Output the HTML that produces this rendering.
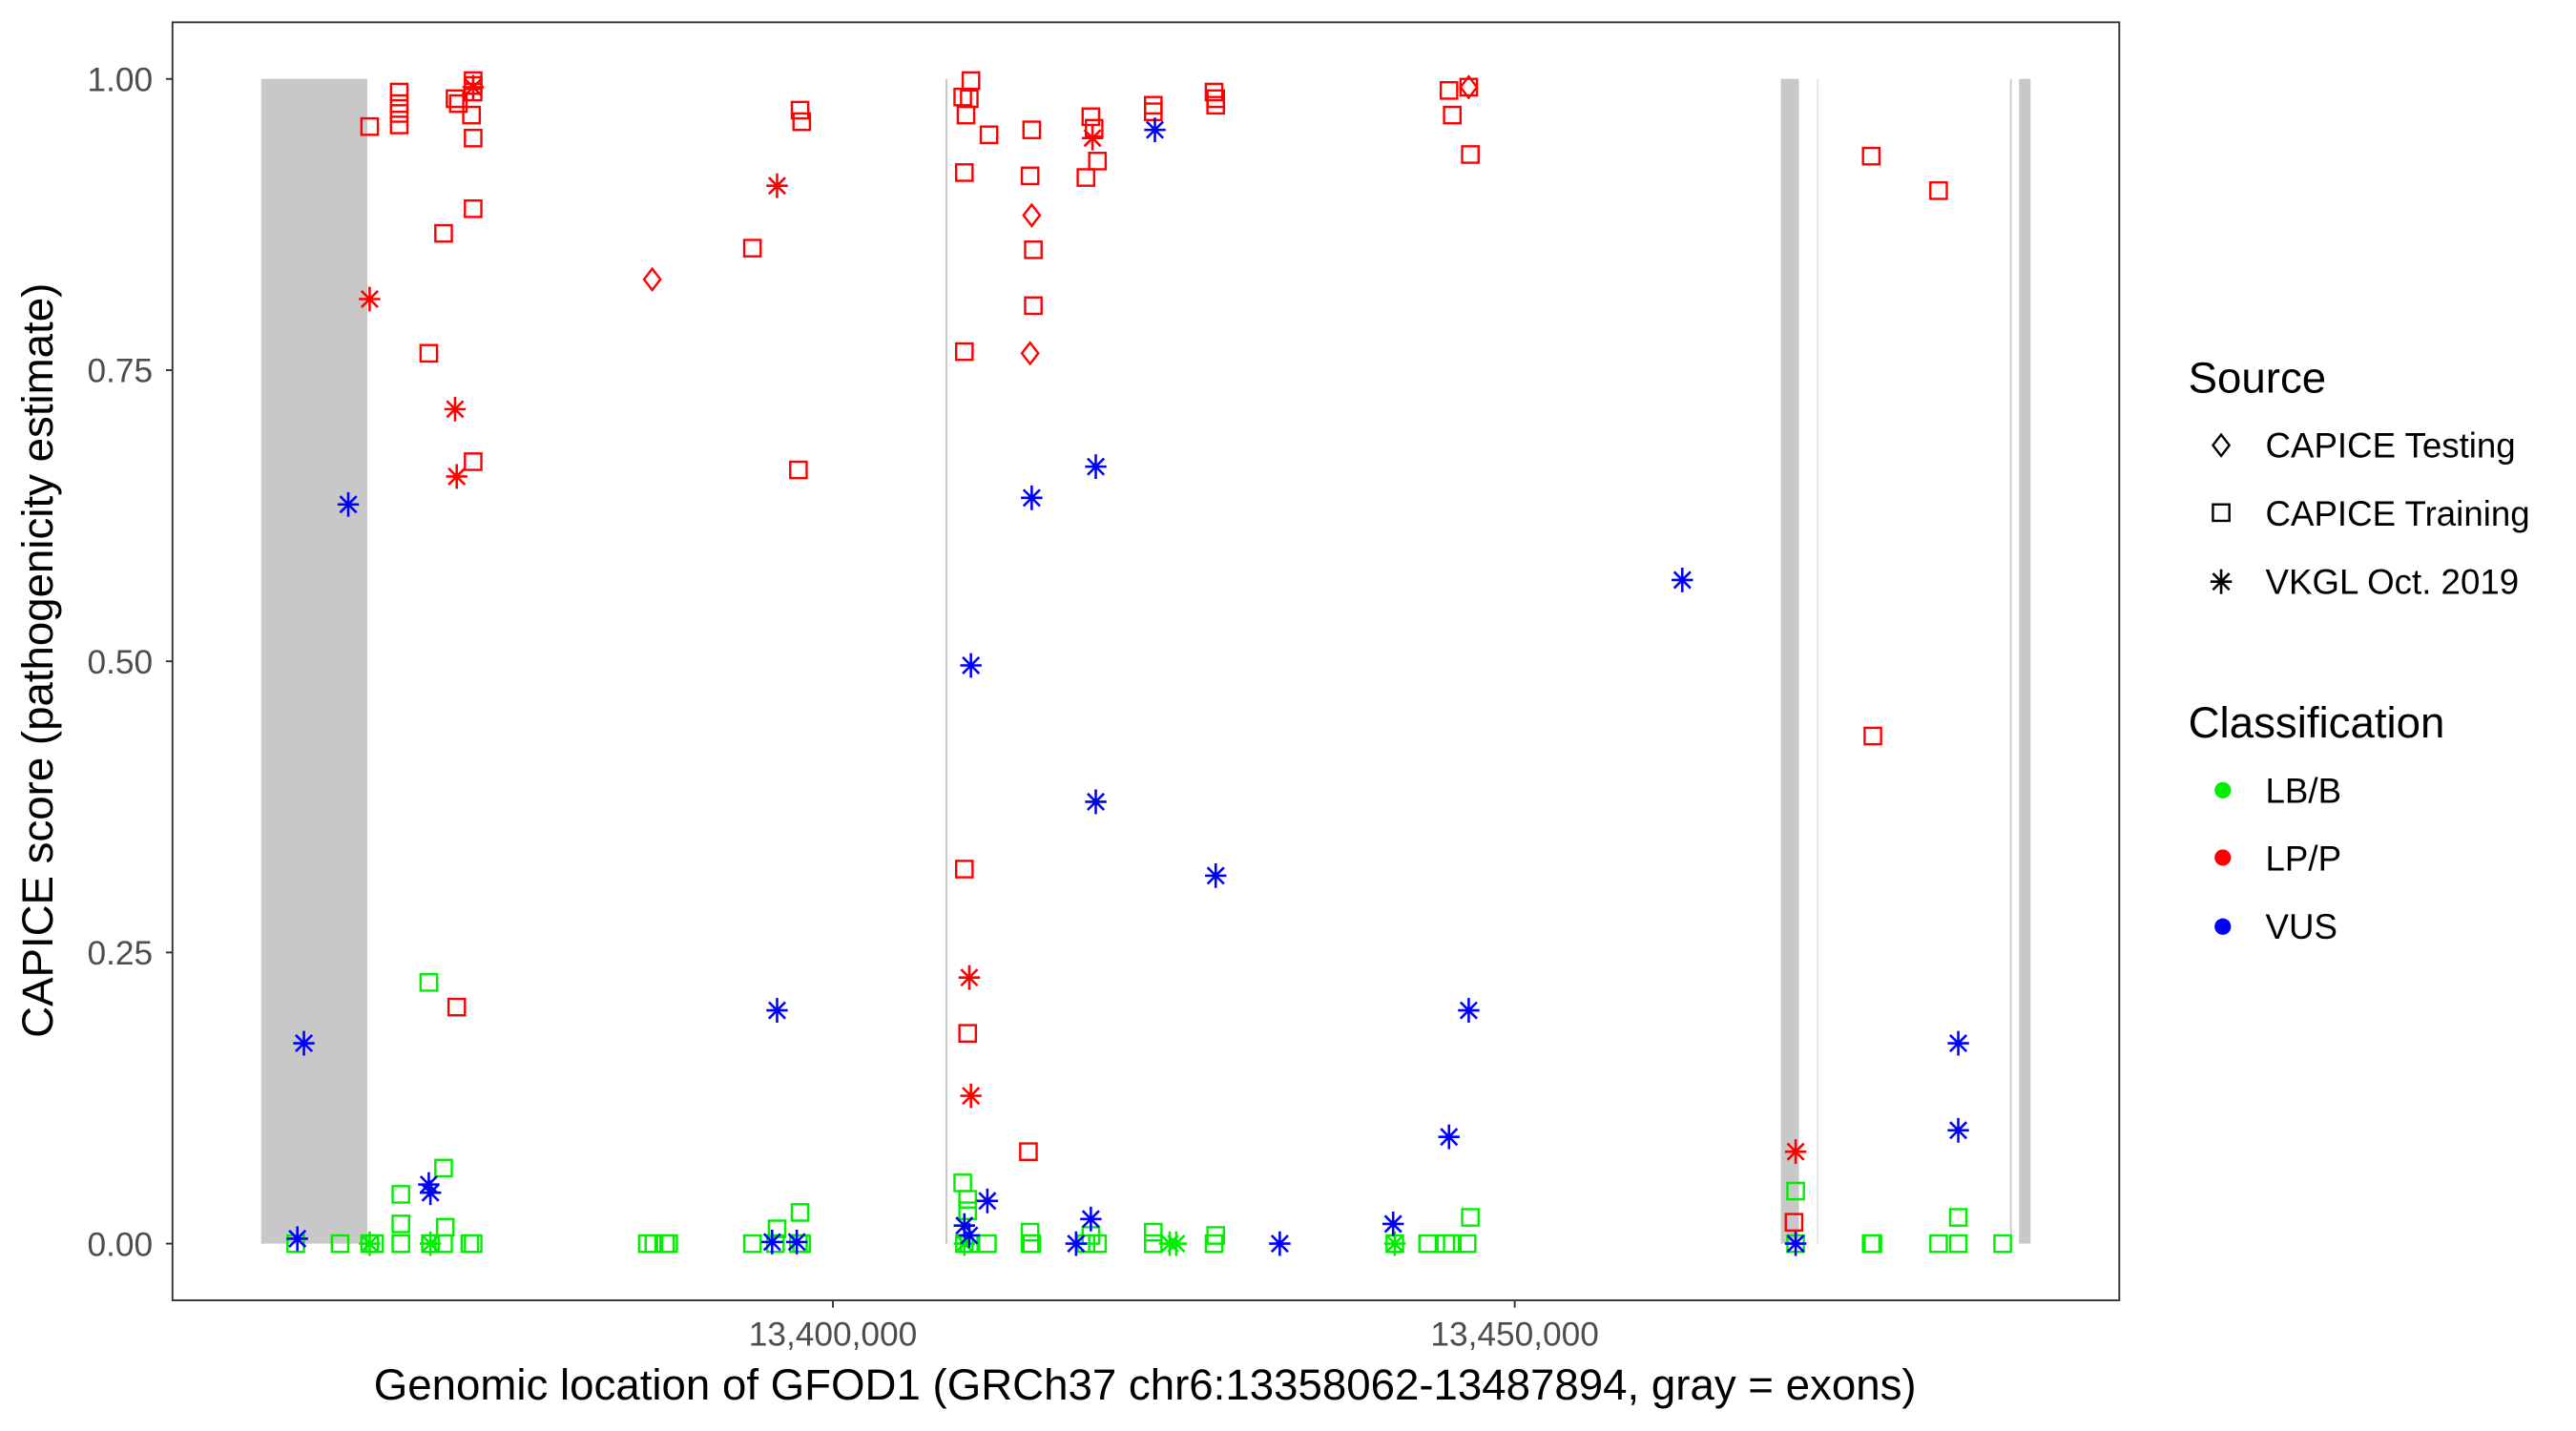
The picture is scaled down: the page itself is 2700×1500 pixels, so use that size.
<!DOCTYPE html>
<html><head><meta charset="utf-8"><style>html,body{margin:0;padding:0;background:#fff}svg{display:block}</style></head>
<body>
<svg xmlns="http://www.w3.org/2000/svg" width="2700" height="1500" viewBox="0 0 1568 871" font-family="Liberation Sans, Arial, sans-serif">
<defs>
<rect id="sq" x="-5" y="-5" width="10" height="10" fill="none" stroke-width="1.4"/>
<path id="dm" d="M0,-6.5 L5,0 L0,6.5 L-5,0 Z" fill="none" stroke-width="1.4"/>
<path id="st" d="M0,-7.5 V7.5 M-6.5,0 H6.5 M-5,-5 L5,5 M-5,5 L5,-5" fill="none" stroke-width="1.5"/>
</defs>
<rect x="0" y="0" width="1568" height="871" fill="#fff"/>
<g fill="#c8c8c8">
<rect x="159" y="48" width="64.6" height="709"/>
<rect x="575.5" y="48" width="1.2" height="709"/>
<rect x="1084" y="48" width="11" height="709"/>
<rect x="1106" y="48" width="0.8" height="709" fill="#ddd"/>
<rect x="1223.5" y="48" width="1" height="709"/>
<rect x="1229" y="48" width="7" height="709"/>
</g>
<g stroke="#00ee00" fill="none">
<use href="#sq" x="180" y="757"/><use href="#sq" x="207" y="757"/><use href="#sq" x="225" y="757"/><use href="#sq" x="228" y="757"/><use href="#sq" x="244" y="757"/><use href="#sq" x="262" y="757"/><use href="#sq" x="270" y="757"/><use href="#sq" x="286" y="757"/><use href="#sq" x="288" y="757"/><use href="#sq" x="394" y="757"/><use href="#sq" x="398" y="757"/><use href="#sq" x="405" y="757"/><use href="#sq" x="407" y="757"/><use href="#sq" x="458" y="757"/><use href="#sq" x="472" y="757"/><use href="#sq" x="486" y="757"/><use href="#sq" x="488" y="757"/><use href="#sq" x="587" y="757"/><use href="#sq" x="590" y="757"/><use href="#sq" x="601" y="757"/><use href="#sq" x="627" y="757"/><use href="#sq" x="628" y="757"/><use href="#sq" x="661" y="757"/><use href="#sq" x="668" y="757"/><use href="#sq" x="702" y="757"/><use href="#sq" x="739" y="757"/><use href="#sq" x="849" y="757"/><use href="#sq" x="869" y="757"/><use href="#sq" x="880" y="757"/><use href="#sq" x="884" y="757"/><use href="#sq" x="893" y="757"/><use href="#sq" x="1093" y="757"/><use href="#sq" x="1139" y="757"/><use href="#sq" x="1140" y="757"/><use href="#sq" x="1180" y="757"/><use href="#sq" x="1192" y="757"/><use href="#sq" x="1219" y="757"/>
<use href="#sq" x="261" y="598"/><use href="#sq" x="244" y="727"/><use href="#sq" x="270" y="711"/><use href="#sq" x="244" y="745"/><use href="#sq" x="271" y="747"/><use href="#sq" x="473" y="748"/><use href="#sq" x="487" y="738"/><use href="#sq" x="586" y="720"/><use href="#sq" x="589" y="730"/><use href="#sq" x="589" y="737"/><use href="#sq" x="627" y="750"/><use href="#sq" x="702" y="750"/><use href="#sq" x="740" y="752"/><use href="#sq" x="895" y="741"/><use href="#sq" x="1093" y="725"/><use href="#sq" x="1192" y="741"/><use href="#sq" x="664" y="752"/>
<use href="#st" x="225" y="757"/><use href="#st" x="262" y="757"/><use href="#st" x="587" y="757"/><use href="#st" x="716" y="757"/><use href="#st" x="712" y="757"/><use href="#st" x="849" y="757"/>
</g>
<g stroke="#ff0000" fill="none">
<use href="#sq" x="225" y="77"/><use href="#sq" x="243" y="56"/><use href="#sq" x="243" y="63"/><use href="#sq" x="243" y="69"/><use href="#sq" x="243" y="76"/><use href="#sq" x="277" y="60"/><use href="#sq" x="279" y="63"/><use href="#sq" x="288" y="49"/><use href="#sq" x="288" y="52"/><use href="#sq" x="288" y="56"/><use href="#sq" x="287" y="70"/><use href="#sq" x="288" y="84"/><use href="#sq" x="288" y="127"/><use href="#sq" x="270" y="142"/><use href="#sq" x="261" y="215"/><use href="#sq" x="288" y="281"/><use href="#sq" x="278" y="613"/>
<use href="#sq" x="458" y="151"/><use href="#sq" x="487" y="67"/><use href="#sq" x="488" y="74"/><use href="#sq" x="486" y="286"/><use href="#sq" x="586" y="59"/><use href="#sq" x="591" y="49"/><use href="#sq" x="588" y="70"/><use href="#sq" x="590" y="60"/><use href="#sq" x="587" y="105"/><use href="#sq" x="602" y="82"/><use href="#sq" x="628" y="79"/><use href="#sq" x="627" y="107"/><use href="#sq" x="629" y="152"/><use href="#sq" x="629" y="186"/><use href="#sq" x="587" y="214"/><use href="#sq" x="587" y="529"/><use href="#sq" x="589" y="629"/><use href="#sq" x="626" y="701"/><use href="#sq" x="661" y="108"/><use href="#sq" x="664" y="71"/><use href="#sq" x="666" y="78"/><use href="#sq" x="668" y="98"/><use href="#sq" x="702" y="64"/><use href="#sq" x="702" y="68"/><use href="#sq" x="739" y="56"/><use href="#sq" x="740" y="60"/><use href="#sq" x="740" y="64"/><use href="#sq" x="882" y="55"/><use href="#sq" x="894" y="53"/><use href="#sq" x="884" y="70"/><use href="#sq" x="895" y="94"/><use href="#sq" x="1139" y="95"/><use href="#sq" x="1180" y="116"/><use href="#sq" x="1140" y="448"/><use href="#sq" x="1092" y="744"/>
<use href="#st" x="225" y="182"/><use href="#st" x="277" y="249"/><use href="#st" x="278" y="290"/><use href="#st" x="288" y="53"/><use href="#st" x="473" y="113"/><use href="#st" x="590" y="595"/><use href="#st" x="591" y="667"/><use href="#st" x="1093" y="701"/><use href="#st" x="665" y="84"/>
<use href="#dm" x="397" y="170"/><use href="#dm" x="628" y="131"/><use href="#dm" x="627" y="215"/><use href="#dm" x="894" y="53"/>
</g>
<g stroke="#0000ff" fill="none">
<use href="#st" x="212" y="307"/><use href="#st" x="185" y="635"/><use href="#st" x="181" y="754"/><use href="#st" x="261" y="721"/><use href="#st" x="262" y="726"/><use href="#st" x="473" y="615"/><use href="#st" x="470" y="756"/><use href="#st" x="485" y="756"/><use href="#st" x="591" y="405"/><use href="#st" x="587" y="746"/><use href="#st" x="590" y="752"/><use href="#st" x="601" y="731"/><use href="#st" x="628" y="303"/><use href="#st" x="667" y="284"/><use href="#st" x="667" y="488"/><use href="#st" x="703" y="79"/><use href="#st" x="740" y="533"/><use href="#st" x="664" y="742"/><use href="#st" x="655" y="757"/><use href="#st" x="779" y="757"/><use href="#st" x="848" y="745"/><use href="#st" x="882" y="692"/><use href="#st" x="894" y="615"/><use href="#st" x="1024" y="353"/><use href="#st" x="1192" y="635"/><use href="#st" x="1192" y="688"/><use href="#st" x="1093" y="757"/>
</g>
<rect x="105" y="13.5" width="1185" height="778" fill="none" stroke="#333" stroke-width="1.1"/>
<g stroke="#333" stroke-width="1.1">
<line x1="101" y1="48" x2="105" y2="48"/><line x1="101" y1="225.25" x2="105" y2="225.25"/><line x1="101" y1="402.5" x2="105" y2="402.5"/><line x1="101" y1="579.75" x2="105" y2="579.75"/><line x1="101" y1="757" x2="105" y2="757"/>
<line x1="507" y1="791.5" x2="507" y2="796"/><line x1="922" y1="791.5" x2="922" y2="796"/>
</g>
<g fill="#4d4d4d" font-size="20.5" text-anchor="end">
<text x="93" y="55.5">1.00</text><text x="93" y="232.5">0.75</text><text x="93" y="410">0.50</text><text x="93" y="587">0.25</text><text x="93" y="764.5">0.00</text>
</g>
<g fill="#4d4d4d" font-size="20.5" text-anchor="middle">
<text x="507" y="819">13,400,000</text><text x="922" y="819">13,450,000</text>
</g>
<text x="697" y="852" font-size="26.5" text-anchor="middle" fill="#000">Genomic location of GFOD1 (GRCh37 chr6:13358062-13487894, gray = exons)</text>
<text transform="translate(32,402) rotate(-90)" font-size="26.5" text-anchor="middle" fill="#000">CAPICE score (pathogenicity estimate)</text>
<text x="1332" y="239" font-size="26.5" fill="#000">Source</text>
<g stroke="#000" fill="none"><use href="#dm" x="1352" y="271"/><use href="#sq" x="1352" y="312"/><use href="#st" x="1352" y="354"/></g>
<g font-size="21.3" fill="#000">
<text x="1379" y="278.5">CAPICE Testing</text><text x="1379" y="320">CAPICE Training</text><text x="1379" y="361.5">VKGL Oct. 2019</text>
</g>
<text x="1332" y="449" font-size="26.5" fill="#000">Classification</text>
<circle cx="1353" cy="481" r="5" fill="#00ee00"/><circle cx="1353" cy="522" r="5" fill="#ff0000"/><circle cx="1353" cy="564" r="5" fill="#0000ff"/>
<g font-size="21.3" fill="#000">
<text x="1379" y="488.5">LB/B</text><text x="1379" y="530">LP/P</text><text x="1379" y="571.5">VUS</text>
</g>
</svg>
</body></html>
